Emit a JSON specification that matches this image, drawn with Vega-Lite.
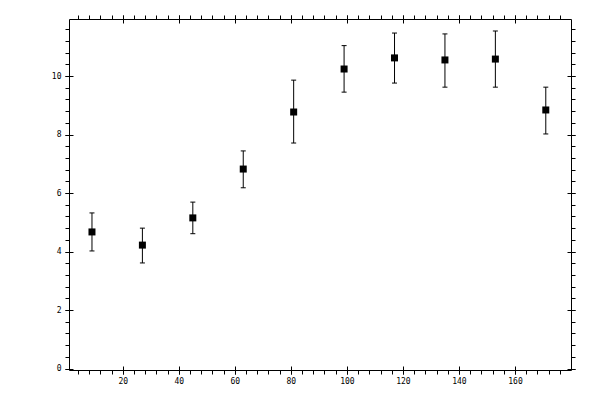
{
  "$schema": "https://vega.github.io/schema/vega-lite/v6.json",
  "width": 502,
  "height": 351,
  "autosize": "none",
  "padding": {"left": 69, "top": 19, "right": 29, "bottom": 30},
  "background": "white",
  "data": {
    "values": [
      {"x": 9, "y": 4.67, "lo": 4.02, "hi": 5.32},
      {"x": 27, "y": 4.22, "lo": 3.61, "hi": 4.8},
      {"x": 45, "y": 5.15, "lo": 4.61, "hi": 5.69},
      {"x": 63, "y": 6.82, "lo": 6.18, "hi": 7.44},
      {"x": 81, "y": 8.77, "lo": 7.71, "hi": 9.86},
      {"x": 99, "y": 10.24, "lo": 9.45, "hi": 11.04},
      {"x": 117, "y": 10.62, "lo": 9.76, "hi": 11.47},
      {"x": 135, "y": 10.55, "lo": 9.62, "hi": 11.44},
      {"x": 153, "y": 10.58, "lo": 9.62, "hi": 11.54},
      {"x": 171, "y": 8.84, "lo": 8.02, "hi": 9.62}
    ]
  },
  "layer": [
    {
      "mark": {"type": "rule", "color": "black", "strokeWidth": 1},
      "encoding": {
        "x": {
          "field": "x", "type": "quantitative",
          "scale": {"domain": [0.8, 180], "nice": false, "zero": false},
          "axis": {
            "orient": "bottom", "domain": true, "tickSize": 4,
            "values": [4,8,12,16,20,24,28,32,36,40,44,48,52,56,60,64,68,72,76,80,84,88,92,96,100,104,108,112,116,120,124,128,132,136,140,144,148,152,156,160,164,168,172,176],
            "labelExpr": "datum.value % 20 === 0 ? '' + datum.value : ''",
            "labelPadding": 3
          }
        },
        "y": {
          "field": "lo", "type": "quantitative",
          "scale": {"domain": [-0.05, 11.95], "nice": false, "zero": false},
          "axis": {
            "orient": "left", "domain": true, "tickSize": 4,
            "values": [0,0.4,0.8,1.2,1.6,2,2.4,2.8,3.2,3.6,4,4.4,4.8,5.2,5.6,6,6.4,6.8,7.2,7.6,8,8.4,8.8,9.2,9.6,10,10.4,10.8,11.2,11.6],
            "labelExpr": "datum.value % 2 === 0 ? '' + datum.value : ''",
            "labelPadding": 4
          }
        },
        "y2": {"field": "hi"}
      }
    },
    {
      "mark": {"type": "tick", "orient": "horizontal", "color": "black", "size": 5, "thickness": 1, "opacity": 1},
      "encoding": {
        "x": {
          "field": "x", "type": "quantitative",
          "scale": {"domain": [0.8, 180], "nice": false, "zero": false},
          "axis": {
            "orient": "bottom", "domain": false, "labels": false,
            "tickSize": 8, "offset": -4,
            "values": [20, 40, 60, 80, 100, 120, 140, 160]
          }
        },
        "y": {
          "field": "lo", "type": "quantitative",
          "scale": {"domain": [-0.05, 11.95], "nice": false, "zero": false},
          "axis": {
            "orient": "left", "domain": false, "labels": false,
            "tickSize": 8, "offset": -4,
            "values": [0, 2, 4, 6, 8, 10]
          }
        }
      }
    },
    {
      "mark": {"type": "tick", "orient": "horizontal", "color": "black", "size": 5, "thickness": 1, "opacity": 1},
      "encoding": {
        "x": {
          "field": "x", "type": "quantitative",
          "scale": {"domain": [0.8, 180], "nice": false, "zero": false},
          "axis": {
            "orient": "top", "domain": true, "labels": false, "tickSize": 4,
            "values": [4,8,12,16,20,24,28,32,36,40,44,48,52,56,60,64,68,72,76,80,84,88,92,96,100,104,108,112,116,120,124,128,132,136,140,144,148,152,156,160,164,168,172,176]
          }
        },
        "y": {
          "field": "hi", "type": "quantitative",
          "scale": {"domain": [-0.05, 11.95], "nice": false, "zero": false},
          "axis": {
            "orient": "right", "domain": true, "labels": false, "tickSize": 4,
            "values": [0,0.4,0.8,1.2,1.6,2,2.4,2.8,3.2,3.6,4,4.4,4.8,5.2,5.6,6,6.4,6.8,7.2,7.6,8,8.4,8.8,9.2,9.6,10,10.4,10.8,11.2,11.6]
          }
        }
      }
    },
    {
      "mark": {"type": "square", "color": "black", "filled": true, "size": 49, "opacity": 1},
      "encoding": {
        "x": {
          "field": "x", "type": "quantitative",
          "scale": {"domain": [0.8, 180], "nice": false, "zero": false},
          "axis": {
            "orient": "top", "domain": false, "labels": false,
            "tickSize": 8, "offset": -4,
            "values": [20, 40, 60, 80, 100, 120, 140, 160]
          }
        },
        "y": {
          "field": "y", "type": "quantitative",
          "scale": {"domain": [-0.05, 11.95], "nice": false, "zero": false},
          "axis": {
            "orient": "right", "domain": false, "labels": false,
            "tickSize": 8, "offset": -4,
            "values": [0, 2, 4, 6, 8, 10]
          }
        }
      }
    }
  ],
  "resolve": {"axis": {"x": "independent", "y": "independent"}},
  "config": {
    "view": {"stroke": null},
    "axis": {
      "title": null,
      "grid": false,
      "domainColor": "black",
      "domainWidth": 1,
      "tickColor": "black",
      "tickWidth": 1,
      "labelColor": "black",
      "labelFont": "DejaVu Sans Mono",
      "labelFontSize": 8,
      "labelOverlap": false,
      "labelFlush": false,
      "labelBound": false
    }
  }
}
